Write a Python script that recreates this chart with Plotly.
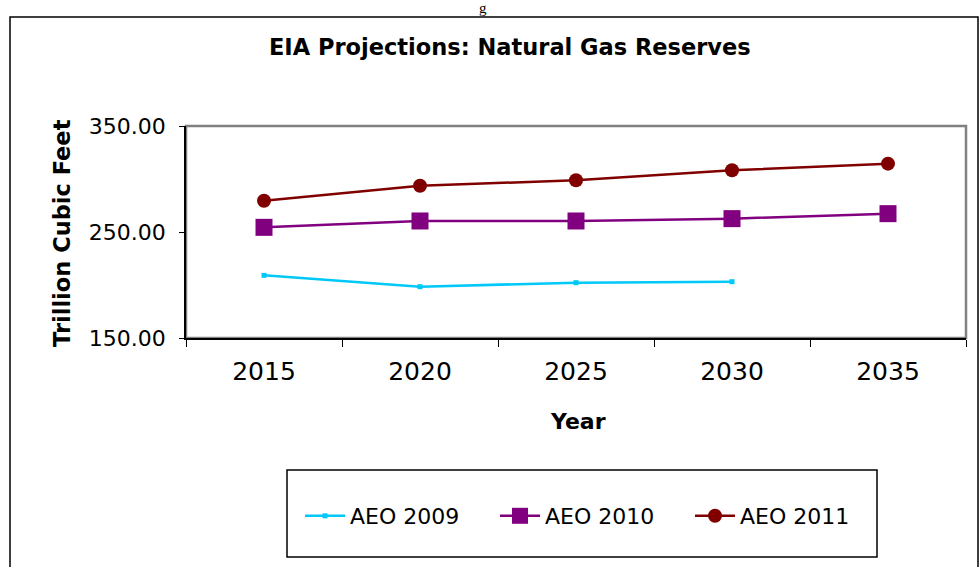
import plotly.graph_objects as go

years = ["2015", "2020", "2025", "2030", "2035"]
aeo2009 = [209.1, 198.4, 202.2, 203.1, None]
aeo2010 = [254.4, 260.4, 260.4, 262.6, 267.3]
aeo2011 = [279.5, 293.7, 298.8, 308.2, 314.5]

W, H = 980, 567
L, R, T, B = 186, 966, 126, 338  # plot area in px


def px_x(x):
    return (x - L) / (R - L)


def px_y(y):
    return (B - y) / (B - T)


FONT = "DejaVu Sans, Arial, sans-serif"

fig = go.Figure()
fig.add_trace(go.Scatter(x=years, y=aeo2009, name="AEO 2009", mode="lines+markers",
                         line=dict(color="#00C8F8", width=2.5),
                         marker=dict(symbol="square", size=5, color="#00C8F8")))
fig.add_trace(go.Scatter(x=years, y=aeo2010, name="AEO 2010", mode="lines+markers",
                         line=dict(color="#800080", width=2.5),
                         marker=dict(symbol="square", size=17, color="#800080")))
fig.add_trace(go.Scatter(x=years, y=aeo2011, name="AEO 2011", mode="lines+markers",
                         line=dict(color="#800000", width=2.5),
                         marker=dict(symbol="circle", size=14, color="#800000")))

shapes = [
    # outer chart frame
    dict(type="rect", xref="paper", yref="paper", x0=px_x(10), x1=px_x(978),
         y0=px_y(640), y1=px_y(17), line=dict(color="black", width=1.5), layer="below"),
    # plot area gray border
    dict(type="rect", xref="paper", yref="paper", x0=0, x1=1, y0=0, y1=1,
         line=dict(color="#808080", width=2.5), layer="below"),
    # legend box
    dict(type="rect", xref="paper", yref="paper", x0=px_x(287), x1=px_x(877),
         y0=px_y(557), y1=px_y(470), line=dict(color="black", width=1.5), layer="below"),
]

annotations = [
    dict(text="<b>EIA Projections: Natural Gas Reserves</b>", xref="paper", yref="paper",
         x=px_x(510), y=px_y(47), showarrow=False, font=dict(family=FONT, size=22.5, color="black"),
         xanchor="center", yanchor="middle"),
    dict(text="<b>Year</b>", xref="paper", yref="paper", x=px_x(578), y=px_y(421),
         showarrow=False, font=dict(family=FONT, size=22, color="black"),
         xanchor="center", yanchor="middle"),
    dict(text="<b>Trillion Cubic Feet</b>", xref="paper", yref="paper", x=px_x(62), y=px_y(233),
         showarrow=False, textangle=-90, font=dict(family=FONT, size=22.5, color="black"),
         xanchor="center", yanchor="middle"),
    dict(text="g", xref="paper", yref="paper", x=px_x(483), y=px_y(8),
         showarrow=False, font=dict(family="Liberation Serif, serif", size=15, color="black"),
         xanchor="center", yanchor="middle"),
]

fig.update_layout(
    width=W, height=H,
    margin=dict(l=L, r=W - R, t=T, b=H - B, pad=0, autoexpand=False),
    paper_bgcolor="white", plot_bgcolor="white",
    font=dict(family=FONT, size=22, color="black"),
    shapes=shapes, annotations=annotations,
    showlegend=True,
    legend=dict(orientation="h", x=px_x(300), y=px_y(516), xanchor="left", yanchor="middle",
                bgcolor="rgba(0,0,0,0)", borderwidth=0, font=dict(family=FONT, size=22),
                itemwidth=40, entrywidth=140, tracegroupgap=0),
)

fig.update_xaxes(type="category", range=[-0.5, len(years) - 0.5], showgrid=False, showline=True,
                 linecolor="black", linewidth=1.5,
                 ticks="outside", tickson="boundaries", ticklen=7, tickcolor="black",
                 ticklabelstandoff=10, tickfont=dict(family=FONT, size=25), zeroline=False,
                 automargin=False)
fig.update_yaxes(range=[150, 350], tick0=150, dtick=100, tickformat=".2f", showgrid=False,
                 showline=True, linecolor="black", linewidth=1.5, ticks="outside", ticklen=5,
                 tickcolor="black", ticklabelstandoff=9, tickfont=dict(family=FONT, size=22),
                 zeroline=False, automargin=False)

fig.write_html("out.html", config={"displayModeBar": False},
               post_script="document.body.style.margin='0px';")
